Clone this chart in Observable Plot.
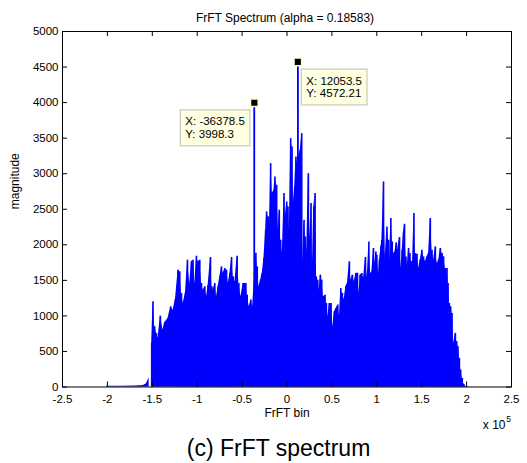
<!DOCTYPE html>
<html><head><meta charset="utf-8">
<script src="https://cdn.jsdelivr.net/npm/d3@7"></script>
<script src="https://cdn.jsdelivr.net/npm/@observablehq/plot@0.6"></script>
<style>body{margin:0;background:#fff;} #chart svg{display:block;}</style>
</head><body><div id="chart"></div>
<script>
// ---- data ----
const bins = [-150700,-149200,-147300,-145400,-143600,-141000,-138100,-136200,-132500,-129500,-126900,-124200,-121300,-119400,-117500,-115700,-113100,-110800,-108300,-106400,-104600,-102700,-100800,-99000,-97100,-95200,-93400,-91500,-89600,-87800,-85200,-83700,-82300,-80400,-78500,-76700,-74800,-72900,-71100,-69200,-67300,-65500,-63600,-61700,-59900,-58000,-55500,-53600,-51300,-48800,-45800,-44300,-42100,-40200,-38300,-36378.5,-34600,-33100,-31300,-29400,-27600,-25700,-23800,-22700,-20900,-19800,-18200,-16400,-14500,-13400,-11500,-9700,-8600,-7000,-5200,-3300,-1900,-300,1100,2600,4100,5600,7000,8600,10000,11500,12053.5,14800,16400,17500,19000,20400,22000,23800,25300,26800,28200,29800,31300,32700,34300,35700,37200,38700,40500,42400,43900,45400,47200,49100,51000,52800,54700,56600,58400,59900,61700,63600,65500,67300,69500,71100,72900,74800,76700,78500,80400,81500,83400,85200,87400,89300,91200,93000,94500,96300,97900,99000,100100,101900,103000,104600,105700,107500,109400,111300,113100,114200,115700,117200,118600,120200,121700,123100,125300,126900,128300,129800,130900,132500,133900,135400,136900,138400,139800,141400,142900,144800,146500,148400,150300,152100,154000,155900,157700,159600,161500,163300,165200,167100,168900,170800,172700,174400,176300,178200,179400,180800,182300,183800,185600,187500,189000,190400,192000,193400,195200,196800];
const mags = [614,1198,847,754,684,997,800,903,965,1128,1081,1232,1643,1620,1316,1175,1316,1784,1456,1760,1784,1456,1840,1760,1784,1456,1362,1409,1268,1432,1821,1409,1362,1456,1268,1409,1549,1690,1597,1667,1643,1456,1597,1821,1549,1480,1840,1456,1268,1456,1456,1292,1128,1222,1128,3998.3,1880,1690,1409,1503,1597,1807,2205,2462,2392,2064,3142,2720,2767,2954,2837,2205,2486,2064,1878,2720,2392,2603,2532,2205,3493,3375,2580,2813,3235,3142,4572.21,3329,3563,1737,2345,2111,1924,3001,2100,2580,1643,2532,2720,1549,1503,1362,1573,1503,1268,1292,1175,987,1175,1175,847,1058,1105,1152,987,1386,1316,1222,1409,1456,1760,1503,1573,1479,1597,1600,1316,1573,1597,1527,1821,1530,2041,1597,1620,1948,1737,1900,1854,1597,1784,1971,2064,2884,1830,2251,2064,1784,2369,2041,1877,1900,2027,1924,2102,1667,1924,2181,2289,1830,1690,1948,1877,1760,1760,2439,1877,1868,1667,1784,1924,1830,1760,1830,1877,2369,1924,1784,1971,1737,1784,1948,1877,1830,1667,1667,1456,1175,1128,1035,614,754,637,566,403,239,120,35];
const tailSide = ["left","left","left","left","left","left","right","right","right"];
const tailBins = [-201000,-185000,-170000,-160000,-156500,-153500,196000,199000,203500];
const tailMags = [10,12,15,20,45,130,60,12,4];
const peakBins = [-36378.5, 12053.5];
const peakMags = [3998.3, 4572.21];
const xTicks = [-250000,-200000,-150000,-100000,-50000,0,50000,100000,150000,200000,250000];
const yTicks = [0,500,1000,1500,2000,2500,3000,3500,4000,4500,5000];
const titleText = "FrFT Spectrum (alpha = 0.18583)";
const xLabel = "FrFT bin";
const yLabel = "magnitude";
const expLabel = "x 10";
const expPower = "5";
const caption = "(c) FrFT spectrum";

// ---- tables ----
const spec = bins.map((b, i) => ({x: b, y: mags[i]}));
const body = spec.filter(d => !peakBins.includes(d.x));
const tails = tailBins.map((b, i) => ({x: b, y: tailMags[i], z: tailSide[i]}));
const peaks = peakBins.map((b, i) => ({x: b, y: peakMags[i]}));

const W = 527, H = 463, mL = 62, mR = 16, mT = 31, mB = 76.5;
const FW = W - mL - mR, FH = H - mT - mB;
const font = "'Liberation Sans', Arial, Helvetica, sans-serif";
const blue = "#0000ff";

const chart = Plot.plot({
  width: W, height: H,
  marginLeft: mL, marginRight: mR, marginTop: mT, marginBottom: mB,
  style: {fontFamily: font, fontSize: "11.5px", background: "#fff", color: "#000"},
  x: {domain: [-250000, 250000], ticks: xTicks, tickFormat: d => String(d / 1e5), tickSize: 0, tickPadding: 8, label: null},
  y: {domain: [0, 5000], ticks: yTicks, tickFormat: d => String(d), tickSize: 0, tickPadding: 4, label: null},
  marks: [
    Plot.areaY(tails, {x: "x", y: "y", z: "z", fill: blue}),
    Plot.areaY(body, {x: "x", y: "y", fill: blue}),
    Plot.ruleX(spec, {x: "x", y: "y", stroke: blue, strokeWidth: 1.6}),
    Plot.ruleX(peaks, {x: "x", y: "y", stroke: blue, strokeWidth: 1.4}),
    Plot.frame({stroke: "#000", strokeWidth: 1}),
    Plot.tickX(xTicks, {x: d => d, insetTop: FH - 5, stroke: "#000"}),
    Plot.tickX(xTicks, {x: d => d, insetBottom: FH - 5, stroke: "#000"}),
    Plot.tickY(yTicks, {y: d => d, insetRight: FW - 5, stroke: "#000"}),
    Plot.tickY(yTicks, {y: d => d, insetLeft: FW - 5, stroke: "#000"}),
    Plot.dot(peaks, {x: "x", y: "y", symbol: "square", r: 4.3, fill: "#000", stroke: "#ffffc8", strokeWidth: 1.5}),
    Plot.text([peaks[0]], {x: "x", y: "y", text: d => `X: ${d.x}\nY: ${d.y}`, textAnchor: "start", lineAnchor: "top", dx: -69, dy: 13.5, fontSize: 11.5, lineHeight: 1.12, fill: "#000", ariaDescription: "datatip"}),
    Plot.text([peaks[1]], {x: "x", y: "y", text: d => `X: ${d.x}\nY: ${d.y}`, textAnchor: "start", lineAnchor: "top", dx: 8.5, dy: 13.5, fontSize: 11.5, lineHeight: 1.12, fill: "#000", ariaDescription: "datatip"}),
    Plot.text([titleText], {text: d => d, frameAnchor: "top", lineAnchor: "bottom", dy: -10, dx: -2, fontSize: 12}),
    Plot.text([xLabel], {text: d => d, frameAnchor: "bottom", lineAnchor: "bottom", dy: 30, fontSize: 12}),
    Plot.text([expLabel], {text: d => d, frameAnchor: "bottom-right", textAnchor: "end", lineAnchor: "bottom", dx: -6, dy: 42, fontSize: 12}),
    Plot.text([expPower], {text: d => d, frameAnchor: "bottom-right", textAnchor: "end", lineAnchor: "bottom", dx: -0.5, dy: 35, fontSize: 8.5}),
    Plot.text([yLabel], {text: d => d, frameAnchor: "left", rotate: -90, dx: -47, fontSize: 12}),
    Plot.text([caption], {text: d => d, frameAnchor: "bottom", lineAnchor: "bottom", dx: -8.5, dy: 69, fontSize: 23})
  ]
});
document.getElementById("chart").appendChild(chart);

// datatip boxes behind the tip texts
d3.select(chart).selectAll('g[aria-description="datatip"] text').each(function() {
  const bb = this.getBBox();
  const padX = 5, padY = 5.5;
  d3.select(this.parentNode).insert("rect", () => this)
    .attr("transform", this.getAttribute("transform"))
    .attr("x", bb.x - padX).attr("y", bb.y - padY)
    .attr("width", bb.width + 2 * padX).attr("height", bb.height + 2 * padY)
    .attr("fill", "#ffffe1").attr("stroke", "#c8c8c0").attr("stroke-width", 1.2);
});
</script>
</body></html>
